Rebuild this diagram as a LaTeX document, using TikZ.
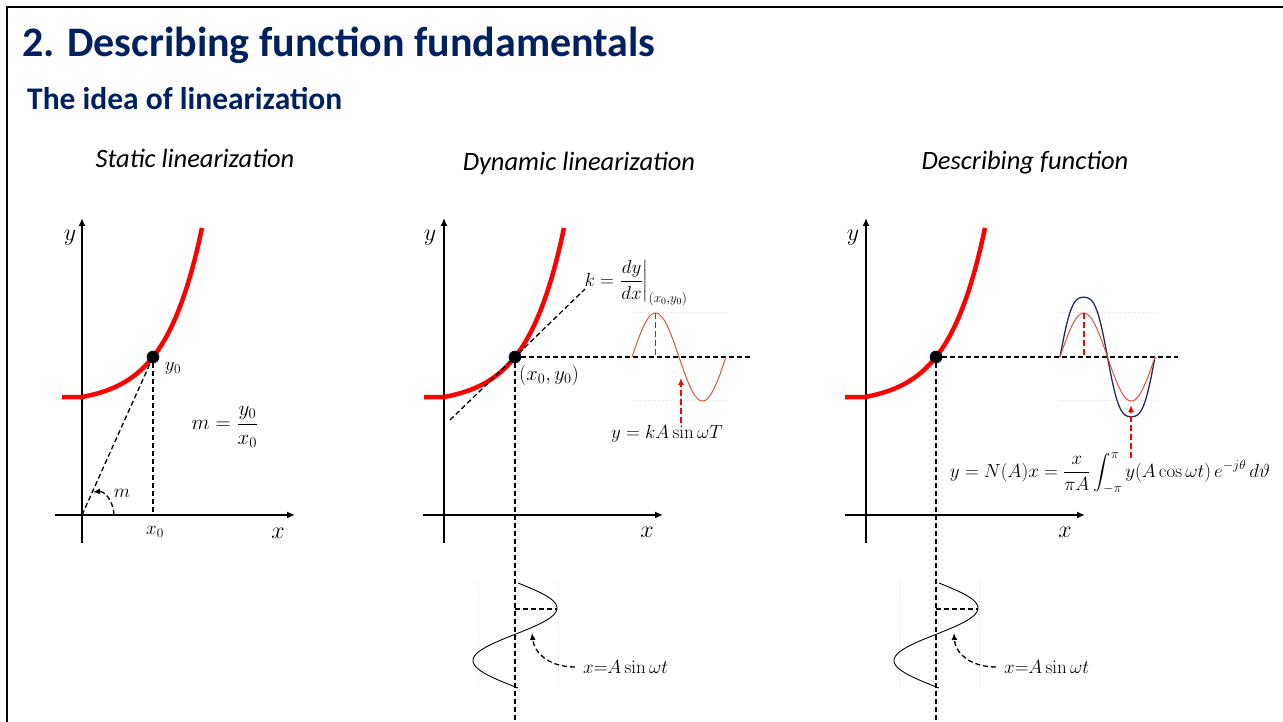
\RequirePackage{fix-cm}
\documentclass[tikz,border=0pt]{standalone}
\usepackage{amsmath}
\usepackage[no-math]{fontspec}
\setmainfont{Carlito}
\usetikzlibrary{arrows.meta}
\definecolor{navy}{HTML}{002060}
\definecolor{sinered}{RGB}{228,82,60}
\definecolor{wavenavy}{HTML}{1F2D5A}
\begin{document}
\begin{tikzpicture}[x=1pt,y=-1pt,
  axisln/.style={line width=1.8pt,-{Latex[length=8pt,width=7pt]}},
  redcurve/.style={red,line width=4.5pt},
  dline/.style={line width=1.3pt,dash pattern=on 5pt off 3pt},
  dotnode/.style={circle,fill=black,draw=navy!70!black,line width=0.6pt,inner sep=0pt,minimum size=12pt},
  rdash/.style={red,line width=1.8pt,dash pattern=on 6pt off 3pt},
  sinr/.style={sinered,line width=1pt},
  faintgrid/.style={gray!25,dotted,line width=0.6pt},
  lab/.style={inner sep=0pt,font=\fontsize{24}{26}\selectfont},
  slab/.style={inner sep=0pt,font=\fontsize{19}{21}\selectfont},
  captxt/.style={inner sep=0pt,font=\fontsize{26.5}{30}\selectfont\itshape},
  arrtip/.style={-{Latex[length=7pt,width=6pt]}}
]
\useasboundingbox (0,0) rectangle (1283,722);
\draw[line width=2.5pt] (7,722) -- (7,7) -- (1283,7);

% titles
\node[anchor=base west,inner sep=0pt,text=navy,font=\fontsize{42}{46}\selectfont\bfseries] (title) at (22,57) {2. Describing function fundamentals};
\node[anchor=base west,inner sep=0pt,text=navy,font=\fontsize{31.5}{34}\selectfont\bfseries] (sub) at (27,110) {The idea of linearization};
\node[captxt] (c1) at (195,158) {Static linearization};
\node[captxt] (c2) at (579,163) {Dynamic linearization};
\node[captxt] (c3) at (1025,163) {Describing function};

% ---------- left panel ----------
\coordinate (O1) at (82,515);
\draw[axisln] (82,543) -- (82,218);
\draw[axisln] (55,515) -- (295,515);
\draw[redcurve] (62,397) -- (82,397) -- plot[domain=0:120,samples=60] ({82+\x},{397-6.9*(exp(0.027*\x)-1)});
\node[dotnode] (P1) at (153,357) {};
\draw[dline] (O1) -- (P1);
\draw[dline] (P1.south) -- (P1.south |- O1);
\draw[dline,arrtip] (114,515) .. controls (113,499) and (104,491) .. (93,492);
\node[slab] (m1) at (122,493) {$m$};
\node[slab] (y0a) at (173,368) {$y_0$};
\node[slab] (x0a) at (155,532) {$x_0$};
\node[lab] (xa) at (278,533) {$x$};
\node[lab] (ya) at (70,238) {$y$};
\node[slab,font=\fontsize{21}{23}\selectfont] (mf) at (225,427) {$m=\dfrac{y_0}{x_0}$};

% ---------- middle panel ----------
\coordinate (O2) at (444,515);
\draw[axisln] (444,543) -- (444,218);
\draw[axisln] (423,515) -- (663,515);
\draw[redcurve] (424,397) -- (444,397) -- plot[domain=0:120,samples=60] ({444+\x},{397-6.9*(exp(0.027*\x)-1)});
\coordinate (T2a) at (450,420);
\coordinate (T2b) at (585,289);
\draw[dline] (T2a) -- (T2b);
\node[dotnode] (P2) at (515,357) {};
\coordinate (H2) at (750,357);
\coordinate (V2) at (515,722);
\draw[dline] (P2) -- (H2);
\draw[dline] (P2) -- (V2);
\draw[faintgrid] (632,312) -- (726,312) (632,400) -- (726,400);
\draw[sinr] plot[domain=0:360,samples=90] ({632+0.26111*\x},{357-44*sin(\x)});
\coordinate (pk2) at (655.5,313);
\draw[rdash] (pk2) -- (pk2 |- P2);
\coordinate (a2s) at (681,423);
\coordinate (a2e) at (681,378);
\draw[rdash,arrtip] (a2s) -- (a2e);
\node[slab] (kf) at (636,283) {$k=\left.\dfrac{dy}{dx}\right|_{(x_0,y_0)}$};
\node[slab] (kAs) at (667,434) {$y=kA\sin\omega T$};
\node[slab,font=\fontsize{20.5}{22}\selectfont] (xy0) at (549,375) {$(x_0,y_0)$};
\node[lab] (xb) at (647,532) {$x$};
\node[lab] (yb) at (430,238) {$y$};
% bottom input sine
\draw[faintgrid] (478,583) -- (478,688) (558,583) -- (558,688);
\draw[line width=0.9pt] plot[domain=583:688,samples=90] ({515+42*sin(3.42857*(\x-583)+4)},\x);
\coordinate (s2) at (557,609);
\draw[dline] (s2 -| P2) -- (s2);
\coordinate (b2s) at (575,667);
\coordinate (b2e) at (532,633);
\draw[dline,arrtip] (b2s) .. controls (548,667) and (534,652) .. (b2e);
\node[slab,anchor=west] (xin2) at (583,667) {$x{=}A\sin\omega t$};

% ---------- right panel ----------
\coordinate (O3) at (865,515);
\draw[axisln] (866,543) -- (866,218);
\draw[axisln] (845,515) -- (1085,515);
\draw[redcurve] (845,397) -- (865,397) -- plot[domain=0:120,samples=60] ({865+\x},{397-6.9*(exp(0.027*\x)-1)});
\node[dotnode] (P3) at (936,357) {};
\coordinate (H3) at (1178,357);
\coordinate (V3) at (936,722);
\draw[dline] (P3) -- (H3);
\draw[dline] (P3) -- (V3);
\draw[faintgrid] (1060,312) -- (1155,312) (1060,400) -- (1155,400);
\draw[wavenavy,line width=1.3pt] plot[domain=0:360,samples=120] ({1060+0.263889*\x},{357-65*(sin(\x)+0.08*sin(3*\x))});
\draw[sinr] plot[domain=0:360,samples=90] ({1060+0.263889*\x},{357-44*sin(\x)});
\coordinate (pk3) at (1084,313);
\draw[rdash] (pk3) -- (pk3 |- P3);
\coordinate (a3s) at (1131,458);
\coordinate (a3e) at (1131,405);
\draw[rdash,arrtip] (a3s) -- (a3e);
\node[slab] (df) at (1110,473) {$y=N(A)x=\dfrac{x}{\pi A}\displaystyle\int_{-\pi}^{\pi}y(A\cos\omega t)\,e^{-j\theta}\,d\vartheta$};
\node[lab] (xc) at (1065,532) {$x$};
\node[lab] (yc) at (853,238) {$y$};
% bottom input sine
\draw[faintgrid] (899,583) -- (899,688) (979,583) -- (979,688);
\draw[line width=0.9pt] plot[domain=583:688,samples=90] ({936+42*sin(3.42857*(\x-583)+4)},\x);
\coordinate (s3) at (978,609);
\draw[dline] (s3 -| P3) -- (s3);
\coordinate (b3s) at (996,667);
\coordinate (b3e) at (954,633);
\draw[dline,arrtip] (b3s) .. controls (969,667) and (955,652) .. (b3e);
\node[slab,anchor=west] (xin3) at (1004,667) {$x{=}A\sin\omega t$};
\end{tikzpicture}
\end{document}
